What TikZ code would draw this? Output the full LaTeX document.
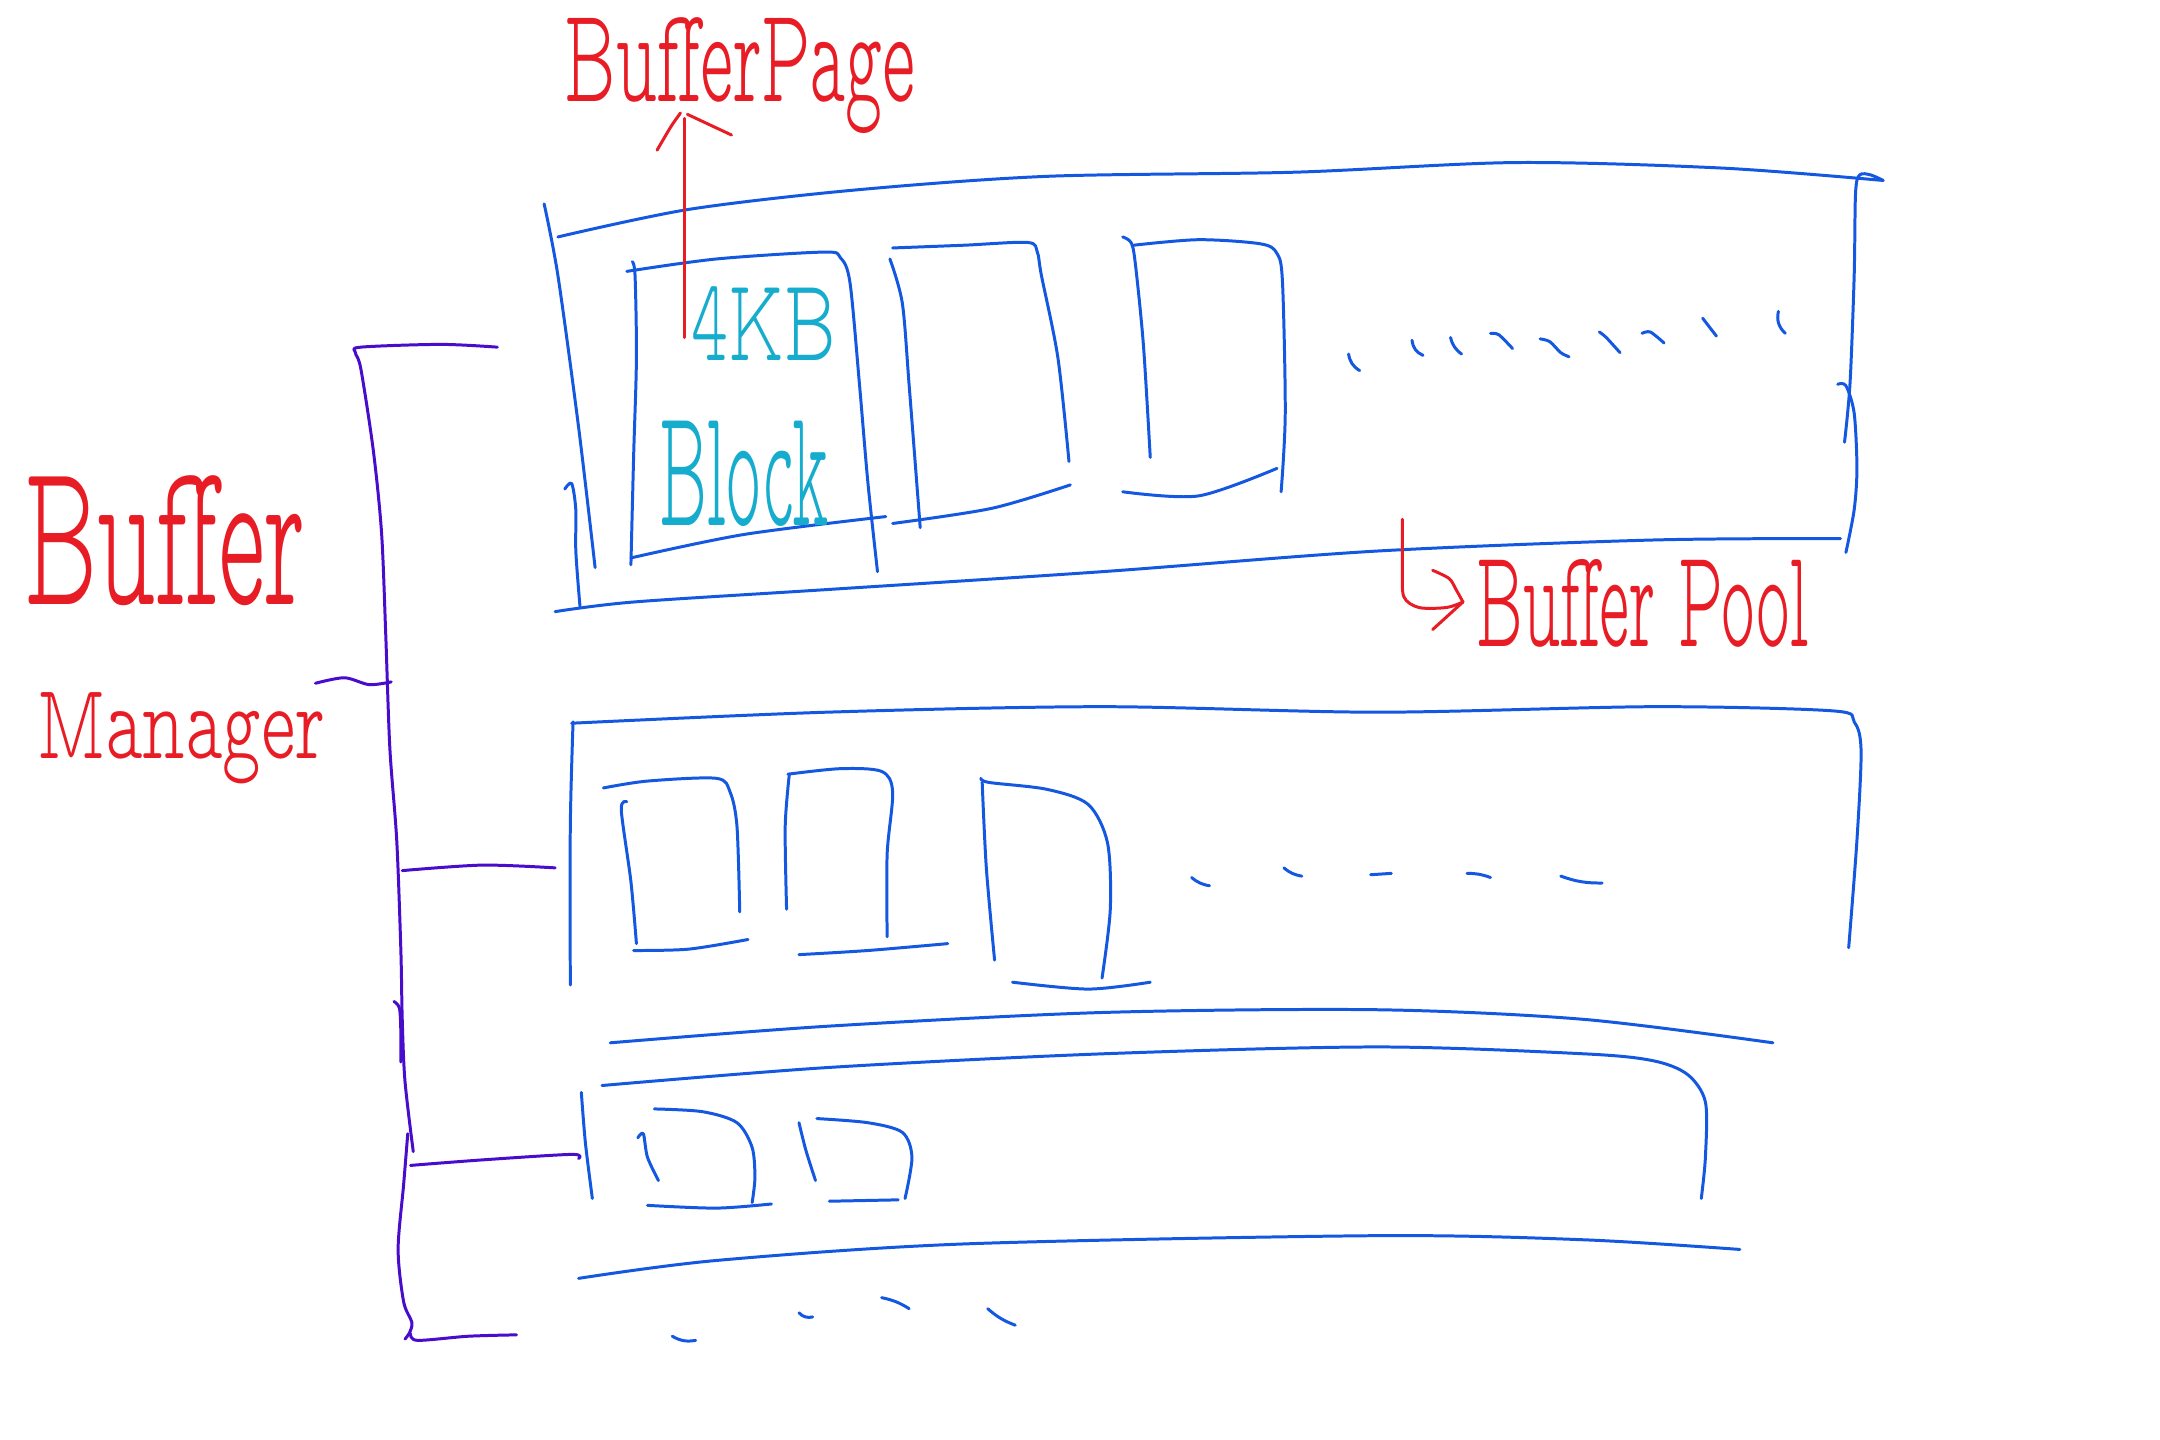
\documentclass[tikz,border=0pt]{standalone}
\usepackage{graphicx}
\usepackage{fontspec}
\newfontfamily\hand{lmmonoproplt10-regular}[Extension=.otf]
\definecolor{inkblue}{RGB}{20,88,225}
\definecolor{inkred}{RGB}{232,28,36}
\definecolor{inkcyan}{RGB}{22,172,205}
\definecolor{inkpurple}{RGB}{72,12,205}
\tikzset{
  ink/.style={line width=0.85pt, line cap=round, line join=round},
  bl/.style={ink, draw=inkblue},
  rd/.style={ink, draw=inkred},
  pu/.style={ink, draw=inkpurple},
  lbl/.style={inner sep=0pt, outer sep=0pt, anchor=north west, text=inkred, font=\hand},
  clbl/.style={lbl, text=inkcyan},
}
\newcommand{\fitw}[3]{\resizebox*{#1}{#2}{#3}}
\begin{document}
\begin{tikzpicture}[x=0.13776mm, y=-0.13776mm]
\fill[white] (0,0) rectangle (1568,1045);
\useasboundingbox (0,0) rectangle (1568,1045);

% ---------- Buffer pool 1 ----------
\draw[bl] plot[smooth] coordinates {(405,172) (500,152) (620,138) (760,128) (940,125) (1100,118) (1250,122) (1367,131)};
\draw[bl] plot[smooth] coordinates {(1339,321) (1343,278) (1346,200) (1347,140) (1350,127) (1358,127) (1367,131)};
\draw[bl] plot[smooth] coordinates {(1334,279) (1340,280) (1346,300) (1348,340) (1346,370) (1340,401)};
\draw[bl] plot[smooth] coordinates {(395,148) (405,200) (420,310) (432,412)};
\draw[bl] plot[smooth] coordinates {(410,355) (415,351) (418,370) (418,400) (421,440)};
\draw[bl] plot[smooth] coordinates {(403,444) (460,437) (600,428) (800,415) (1000,400) (1200,392) (1336,391)};
% pages
\draw[bl] plot[smooth] coordinates {(455,197) (520,188) (598,183) (610,187) (617,205) (624,280) (630,350) (637,415)};
\draw[bl] plot[smooth] coordinates {(459,190) (461,200) (462,260) (460,330) (458,410)};
\draw[bl] plot[smooth] coordinates {(458,405) (540,388) (643,375)};
\draw[bl] plot[smooth] coordinates {(648,180) (700,178) (746,176) (753,183) (756,200) (768,260) (776,335)};
\draw[bl] plot[smooth] coordinates {(646,188) (655,220) (660,280) (668,383)};
\draw[bl] plot[smooth] coordinates {(648,380) (720,369) (777,352)};
\draw[bl] plot[smooth] coordinates {(815,172) (821,176) (824,190) (830,250) (835,332)};
\draw[bl] plot[smooth] coordinates {(823,178) (870,174) (915,177) (927,184) (931,205) (933,300) (930,357)};
\draw[bl] plot[smooth] coordinates {(815,357) (870,360) (927,340)};
% dots
\draw[bl] (979,257) to[bend right=25] (987,269);
\draw[bl] (1025,247) to[bend right=30] (1033,258);
\draw[bl] (1053,245) to[bend right=20] (1061,257);
\draw[bl] plot[smooth] coordinates {(1082,242) (1088,243) (1098,253)};
\draw[bl] plot[smooth] coordinates {(1118,246) (1125,248) (1133,256) (1139,259)};
\draw[bl] plot[smooth] coordinates {(1161,241) (1166,245) (1176,256)};
\draw[bl] plot[smooth] coordinates {(1192,242) (1198,241) (1208,249)};
\draw[bl] (1236,231) -- (1246,244);
\draw[bl] (1291,226) to[bend right=30] (1296,242);

% ---------- Buffer pool 2 ----------
\draw[bl] plot[smooth] coordinates {(415,525) (600,517) (800,513) (1000,517) (1200,513) (1330,516) (1346,524) (1351,545) (1348,610) (1342,688)};
\draw[bl] plot[smooth] coordinates {(416,524) (414,600) (414,715)};
\draw[bl] plot[smooth] coordinates {(443,757) (600,745) (800,735) (1000,733) (1150,740) (1287,757)};
\draw[bl] plot[smooth] coordinates {(438,572) (470,567) (520,565) (530,575) (535,600) (537,662)};
\draw[bl] plot[smooth] coordinates {(455,582) (451,588) (458,640) (462,685)};
\draw[bl] plot[smooth] coordinates {(460,690) (500,689) (543,682)};
\draw[bl] plot[smooth] coordinates {(572,562) (610,558) (640,560) (648,575) (644,620) (644,680)};
\draw[bl] plot[smooth] coordinates {(573,562) (570,600) (571,660)};
\draw[bl] plot[smooth] coordinates {(580,693) (630,690) (688,685)};
\draw[bl] plot[smooth] coordinates {(712,565) (718,568) (760,573) (790,584) (804,612) (806,660) (800,710)};
\draw[bl] plot[smooth] coordinates {(713,568) (716,630) (722,697)};
\draw[bl] plot[smooth] coordinates {(735,713) (790,718) (835,713)};
\draw[bl] (865,637) to[bend right=15] (878,643);
\draw[bl] (932,630) to[bend right=15] (945,636);
\draw[bl] (995,635) -- (1010,634);
\draw[bl] (1065,634) to[bend left=10] (1082,637);
\draw[bl] (1133,636) to[bend right=10] (1163,641);

% ---------- Buffer pool 3 ----------
\draw[bl] plot[smooth] coordinates {(437,788) (600,775) (800,765) (1000,760) (1150,765) (1200,770) (1225,780) (1238,800) (1238,840) (1235,870)};
\draw[bl] plot[smooth] coordinates {(422,793) (425,830) (430,870)};
\draw[bl] plot[smooth] coordinates {(420,928) (520,915) (700,903) (1000,897) (1150,900) (1263,907)};
\draw[bl] plot[smooth] coordinates {(463,826) (467,823) (470,840) (478,857)};
\draw[bl] plot[smooth] coordinates {(475,805) (510,807) (535,815) (546,833) (548,855) (546,873)};
\draw[bl] plot[smooth] coordinates {(470,875) (520,877) (560,874)};
\draw[bl] plot[smooth] coordinates {(580,815) (585,835) (592,857)};
\draw[bl] plot[smooth] coordinates {(593,812) (630,815) (655,822) (662,840) (657,870)};
\draw[bl] plot[smooth] coordinates {(602,872) (652,871)};
% dots below
\draw[bl] (488,970) to[bend right=20] (505,973);
\draw[bl] (580,953) to[bend right=30] (590,956);
\draw[bl] (640,942) to[bend left=10] (660,950);
\draw[bl] (717,950) to[bend right=10] (737,962);

% ---------- Buffer Manager bracket ----------
\coordinate (bm) at (258,254);
\coordinate (p1) at (361,252);
\coordinate (p2) at (403,630);
\coordinate (p3) at (420,841);
\coordinate (p4) at (375,969);
\draw[pu] plot[smooth] coordinates {(p1) (320,250) (262,252) (258,256) (262,268) (271,327) (277,387) (280,460) (283,543) (288,610) (291,690) (292,740) (294,785) (300,836)};
\draw[pu] plot[smooth] coordinates {(229,496) (250,492) (268,497) (284,495)};
\draw[pu] plot[smooth] coordinates {(292,632) (350,628) (p2)};
\draw[pu] plot[smooth] coordinates {(286,727) (290,732) (291,750) (291,771)};
\draw[pu] plot[smooth] coordinates {(298,846) (350,842) (415,838) (p3)};
\draw[pu] plot[smooth] coordinates {(296,823) (293,860) (289,907) (293,945) (299,960) (297,968) (294,972)};
\draw[pu] plot[smooth] coordinates {(298,968) (303,973) (340,970) (p4)};

% ---------- labels ----------
\node[lbl] (bpage) at (410,13) {\fitw{99.6pt}{33pt}{BufferPage}};
\node[clbl] (kb) at (502,208) {\fitw{41pt}{21pt}{4KB}};
\node[clbl] (block) at (479,306) {\fitw{48pt}{30pt}{Block}};
\node[lbl] (bman1) at (18,345) {\fitw{80pt}{37pt}{Buffer}};
\node[lbl] (bman2) at (27,503) {\fitw{82pt}{26pt}{Manager}};
\node[lbl] (bpool) at (1072,406) {\fitw{94.5pt}{25pt}{Buffer Pool}};

% BufferPage pointer
\coordinate (pgFoot) at (497,245);
\coordinate (pgTip) at (497,86);
\draw[rd] (pgFoot) -- (pgTip);
\draw[rd] plot[smooth] coordinates {(477,109) (487,92) (494,82)};
\draw[rd] (499,83) -- (531,98);

% Buffer Pool pointer
\coordinate (bpFoot) at (1018,377);
\coordinate (bpTip) at (1062,437);
\draw[rd] plot[smooth] coordinates {(bpFoot) (1018,410) (1019,433) (1030,441) (1050,441) (bpTip)};
\draw[rd] plot[smooth] coordinates {(1040,414) (1052,420) (1057,428) (bpTip)};
\draw[rd] (bpTip) -- (1040,457);
\end{tikzpicture}
\end{document}
